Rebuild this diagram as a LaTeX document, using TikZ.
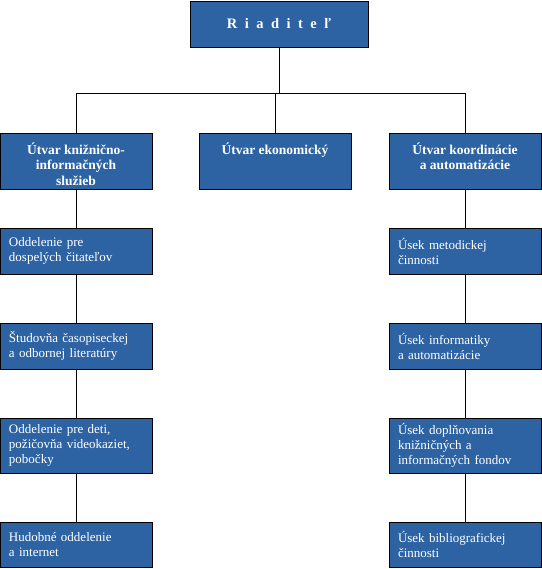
\documentclass[tikz,border=0pt]{standalone}
\usepackage{fontspec}
\setmainfont{Liberation Serif}
\usetikzlibrary{positioning}
\definecolor{unitblue}{HTML}{2D63A3}

\begin{document}
\begin{tikzpicture}[x=1pt, y=-1pt,
  unit/.style={draw=black, fill=unitblue, text=white, line width=0.9pt,
    minimum width=152pt, inner sep=0pt, outer sep=0pt, anchor=north west},
  head/.style={unit, minimum height=56pt},
  headtxt/.style={anchor=north, yshift=-6pt, text=white, align=center,
    font=\bfseries\fontsize{13.5}{15.5}\selectfont},
  dept/.style={unit, anchor=north, text width=134pt, inner xsep=9pt,
    align=left, font=\fontsize{13}{15}\selectfont},
  link/.style={line width=0.9pt}]
  \useasboundingbox (0,0) rectangle (541,569);
  % top of the tree
  \node[unit, minimum width=178pt, minimum height=46pt,
    font={\bfseries\fontsize{14.5}{16}\selectfont\spaceskip 7.5pt\relax}] (boss) at (190,1)
    {R i a d i t e ľ};
  \node[head, label={[headtxt]north:{Útvar knižnično-\\informačných\\služieb}}]
    (h1) at (0,133) {};
  \node[head, label={[headtxt]north:{Útvar ekonomický}}] (h2) at (199,133) {};
  \node[head, label={[headtxt]north:{Útvar koordinácie\\a automatizácie}}]
    (h3) at (389,133) {};
  % left column
  \node[dept, minimum height=46pt, below=39pt of h1] (l1)
    {Oddelenie pre\\dospelých čitateľov};
  \node[dept, minimum height=46pt, below=49pt of l1] (l2)
    {Študovňa časopiseckej\\a odbornej literatúry};
  \node[dept, minimum height=55pt, below=49pt of l2] (l3)
    {Oddelenie pre deti,\\požičovňa videokaziet,\\pobočky};
  \node[dept, minimum height=45pt, below=49pt of l3] (l4)
    {Hudobné oddelenie\\a internet};
  % right column
  \node[dept, minimum height=46pt, below=39pt of h3] (r1)
    {Úsek  metodickej\\činnosti};
  \node[dept, minimum height=46pt, below=49pt of r1] (r2)
    {Úsek informatiky\\a automatizácie};
  \node[dept, minimum height=55pt, below=49pt of r2] (r3)
    {Úsek doplňovania\\knižničných a\\informačných fondov};
  \node[dept, minimum height=45pt, below=49pt of r3] (r4)
    {Úsek bibliografickej\\činnosti};
  % connectors
  \coordinate (bus) at (0,93);
  \draw[link] (boss.south) -- (boss.south |- bus);
  \draw[link] (h1.north) |- (h3.north |- bus) -- (h3.north);
  \draw[link] (h2.north) -- (h2.north |- bus);
  \draw[link] (h1) -- (l1) (l1) -- (l2) (l2) -- (l3) (l3) -- (l4);
  \draw[link] (h3) -- (r1) (r1) -- (r2) (r2) -- (r3) (r3) -- (r4);
\end{tikzpicture}
\end{document}
